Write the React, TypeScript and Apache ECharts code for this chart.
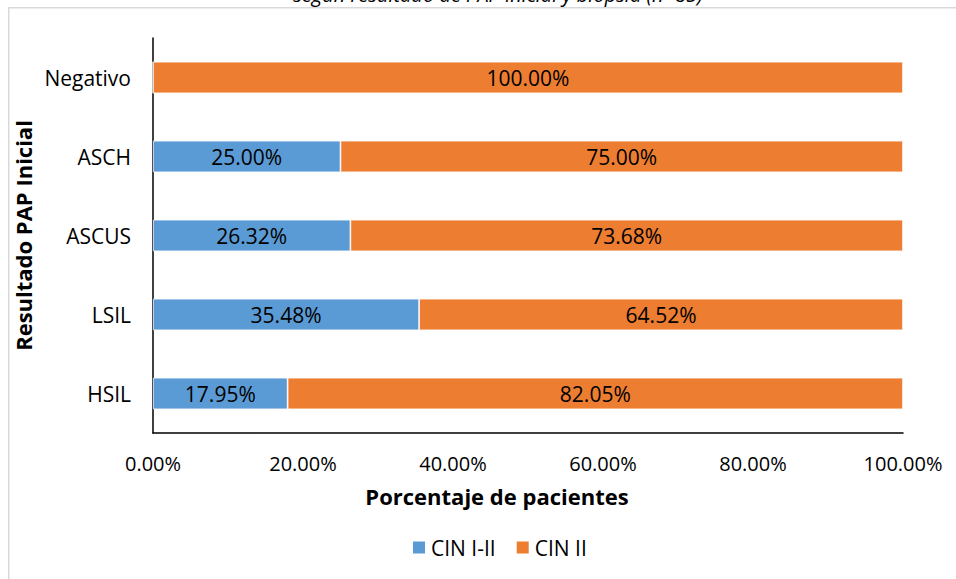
import React, { useEffect, useRef } from "react";
import * as echarts from "echarts";

// Categories listed bottom-to-top, as the category y-axis draws them
const categories = ["HSIL", "LSIL", "ASCUS", "ASCH", "Negativo"];
const cinI_II = [17.95, 35.48, 26.32, 25.0, 0];
const cinII = [82.05, 64.52, 73.68, 75.0, 100];
const seriesNames = ["CIN I-II", "CIN II"];
const xTicks = [0, 20, 40, 60, 80, 100];

const FONT = "'Open Sans', 'Noto Sans', sans-serif";

export default function App() {
  const ref = useRef<HTMLDivElement>(null);

  useEffect(() => {
    if (!ref.current) return;
    const chart = echarts.init(ref.current, null, { renderer: "svg" });
    const labelFmt = (p: any) => (p.value > 0 ? p.value.toFixed(2) + "%" : "");
    chart.setOption({
      animation: false,
      backgroundColor: "#ffffff",
      textStyle: { fontFamily: FONT },
      graphic: [
        {
          type: "rect",
          shape: { x: 8.75, y: 7.75, width: 1200, height: 800 },
          style: { fill: "none", stroke: "#d9d9d9", lineWidth: 1.5 },
          silent: true,
        },
        {
          type: "text",
          x: 498,
          y: 4,
          style: {
            text: "según resultado de PAP inicial y biopsia (n=85)",
            font: "italic 20px 'Open Sans', sans-serif",
            fill: "#000000",
            align: "center",
            verticalAlign: "bottom",
          },
        },
      ],
      grid: { left: 153, right: 53, top: 38, bottom: 146 },
      xAxis: {
        type: "value",
        min: xTicks[0],
        max: xTicks[xTicks.length - 1],
        interval: 20,
        name: "Porcentaje de pacientes",
        nameLocation: "middle",
        nameGap: 52,
        nameTextStyle: {
          fontFamily: FONT,
          fontSize: 22,
          fontWeight: "bold",
          color: "#000000",
          padding: [0, 62, 0, 0],
        },
        axisLine: { show: true, lineStyle: { color: "#000000", width: 1.5 } },
        axisTick: { show: false },
        splitLine: { show: false },
        axisLabel: {
          fontFamily: FONT,
          fontSize: 20,
          color: "#000000",
          margin: 20,
          formatter: (v: number) => v.toFixed(2) + "%",
        },
      },
      yAxis: {
        type: "category",
        data: categories,
        name: "Resultado PAP Inicial",
        nameLocation: "middle",
        nameGap: 110,
        nameRotate: 90,
        nameTextStyle: { fontFamily: FONT, fontSize: 22, fontWeight: "bold", color: "#000000" },
        axisLine: { show: true, lineStyle: { color: "#000000", width: 1.5 } },
        axisTick: { show: false },
        axisLabel: { fontFamily: FONT, fontSize: 21, color: "#000000", margin: 22 },
      },
      legend: {
        data: seriesNames,
        top: 532,
        left: 406,
        icon: "rect",
        itemWidth: 14,
        itemHeight: 14,
        itemGap: 19,
        textStyle: { fontFamily: FONT, fontSize: 21, color: "#000000" },
      },
      series: [
        {
          name: seriesNames[0],
          type: "bar",
          stack: "total",
          data: cinI_II,
          barCategoryGap: "60%",
          itemStyle: { color: "#5B9BD5", borderColor: "#ffffff", borderWidth: 0.75 },
          label: {
            show: true,
            position: "inside",
            color: "#000000",
            fontFamily: FONT,
            fontSize: 21,
            formatter: labelFmt,
          },
        },
        {
          name: seriesNames[1],
          type: "bar",
          stack: "total",
          data: cinII,
          barCategoryGap: "60%",
          itemStyle: { color: "#ED7D31", borderColor: "#ffffff", borderWidth: 0.75 },
          label: {
            show: true,
            position: "inside",
            color: "#000000",
            fontFamily: FONT,
            fontSize: 21,
            formatter: labelFmt,
          },
        },
      ],
    });
    return () => chart.dispose();
  }, []);

  return (
    <div
      ref={ref}
      style={{ position: "fixed", left: 0, top: 0, width: 956, height: 579 }}
    />
  );
}
